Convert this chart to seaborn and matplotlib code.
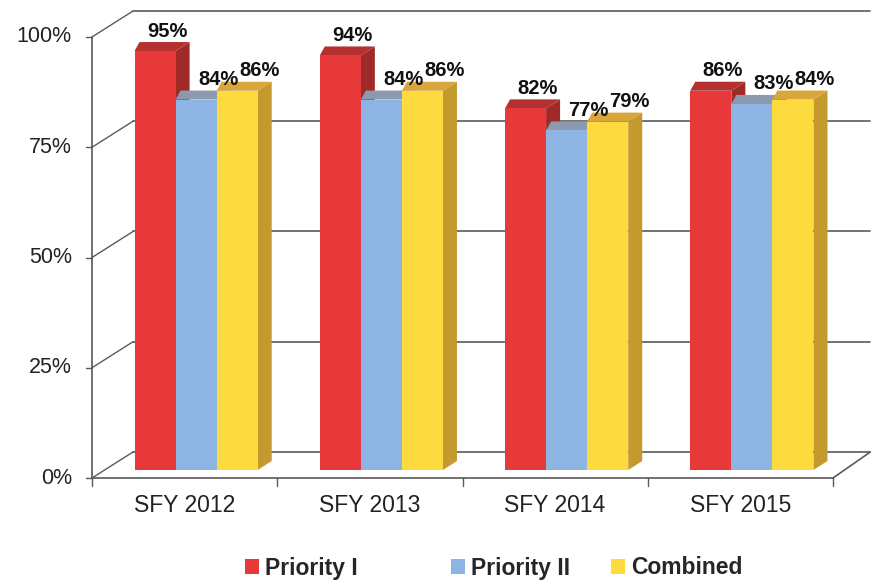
import matplotlib
matplotlib.use('Agg')
import matplotlib.pyplot as plt
import pandas as pd
import seaborn as sns
from matplotlib.patches import Polygon, Patch

# Data
years = ['SFY 2012', 'SFY 2013', 'SFY 2014', 'SFY 2015']
series = ['Priority I', 'Priority II', 'Combined']
priority_1 = [95, 94, 82, 86]
priority_2 = [84, 84, 77, 83]
combined = [86, 86, 79, 84]
y_ticks = [0, 25, 50, 75, 100]

# Colours: front face, top face, side face
front_cols = ['#E8393A', '#8DB4E2', '#FDDB3E']
top_cols = ['#B5312F', '#8C99AE', '#D8A63A']
side_cols = ['#A02A28', '#6E8CB4', '#C49A2E']

df = pd.DataFrame({
    'Year': years * 3,
    'Series': [s for s in series for _ in years],
    'Value': priority_1 + priority_2 + combined,
})

sns.set_style('white')
plt.rcParams['font.family'] = ['Liberation Sans', 'DejaVu Sans']

fig = plt.figure(figsize=(8.75, 5.81), dpi=100)
# bar plane in pixels: x 103.5..844.5, y 29..470 (from top)
W_px, H_px = 741, 441
ax = fig.add_axes([103.5 / 875, (581 - 470) / 581, W_px / 875, H_px / 581])

sns.barplot(data=df, x='Year', y='Value', hue='Series', palette=front_cols,
            width=0.665, saturation=1, ax=ax, legend=False, linewidth=0)
ax.set_xlim(-0.5, 3.5)
ax.set_ylim(0, 100)
ax.axis('off')

ux = 4 / W_px
uy = 100 / H_px


def sh(x, y, dx, dy):
    # shift a data point by pixel offsets (dy up positive)
    return x + dx * ux, y + dy * uy


FRONT = (-11.5, -8)
BACK = (29.5, 18)
line_col = '#5a5a5a'
text_col = '#222222'

# back wall gridlines and left wall diagonals
x0, x1 = -0.5, 3.5
for t in y_ticks:
    bx0, by = sh(x0, t, *BACK)
    bx1, _ = sh(x1 - 0.02, t, *BACK)
    ax.plot([bx0, bx1], [by, by], color=line_col, lw=1.2, zorder=1, clip_on=False)
    fx, fy = sh(x0, t, *FRONT)
    ax.plot([fx, bx0], [fy, by], color=line_col, lw=1.0, zorder=1, clip_on=False)
    ax.plot([fx - 6 * ux, fx], [fy, fy], color=line_col, lw=1.0, zorder=1, clip_on=False)
    ax.text(fx - 20 * ux, fy, f'{t}%', ha='right', va='center', fontsize=15.5,
            color=text_col)

# front axis line and floor
fxa, fy0 = sh(x0, 0, *FRONT)
_, fy100 = sh(x0, 100, *FRONT)
ax.plot([fxa, fxa], [fy0, fy100], color=line_col, lw=1.2, zorder=1, clip_on=False)
fxb, _ = sh(x1, 0, *FRONT)
bxb, byb = sh(x1 - 0.02, 0, *BACK)
ax.plot([fxa, fxb], [fy0, fy0], color=line_col, lw=1.2, zorder=50, clip_on=False)
ax.plot([fxb, bxb], [fy0, byb], color=line_col, lw=1.2, zorder=1, clip_on=False)
for i in range(len(years) + 1):
    tx, _ = sh(x0 + i, 0, *FRONT)
    ax.plot([tx, tx], [fy0, fy0 - 8 * uy], color=line_col, lw=1.0, zorder=50, clip_on=False)
for i, yr in enumerate(years):
    cx, _ = sh(i, 0, *FRONT)
    ax.text(cx, fy0 - 28 * uy, yr, ha='center', va='center', fontsize=16.5, color=text_col)

# 3D faces for the bars
label_dx = [12, 22, 22]
patches = sorted(ax.patches, key=lambda p: p.get_x())
for k, p in enumerate(patches):
    j = k % 3
    xl = p.get_x()
    xr = xl + p.get_width()
    h = p.get_height()
    base = 10 + 3 * k
    p.set_zorder(base + 2)
    top = Polygon([(xl, h), (xr, h), sh(xr, h, 14, 9), sh(xl, h, 5, 9)],
                  closed=True, facecolor=top_cols[j], edgecolor='none', zorder=base + 1)
    side = Polygon([(xr, 0), (xr, h), sh(xr, h, 14, 9), sh(xr, 0, 14, 9)],
                   closed=True, facecolor=side_cols[j], edgecolor='none', zorder=base)
    ax.add_patch(side)
    ax.add_patch(top)
    lx, ly = sh((xl + xr) / 2, h, label_dx[j], 20)
    ax.text(lx, ly, f'{h:.0f}%', ha='center', va='center', fontsize=14.5,
            fontweight='bold', color='#111111', zorder=60)

# legend entries, placed like the original (uneven spacing)
legend_x = [245, 451, 611]
for name, col, lx in zip(series, front_cols, legend_x):
    fig.legend([Patch(facecolor=col, edgecolor='none')], [name], loc='center left',
               bbox_to_anchor=(lx / 875, 1 - 568 / 581), frameon=False,
               borderpad=0, borderaxespad=0, handlelength=0.62, handleheight=0.62,
               handletextpad=0.25, prop={'weight': 'bold', 'size': 16.5})

fig.savefig('out.png', dpi=100, facecolor='white')
